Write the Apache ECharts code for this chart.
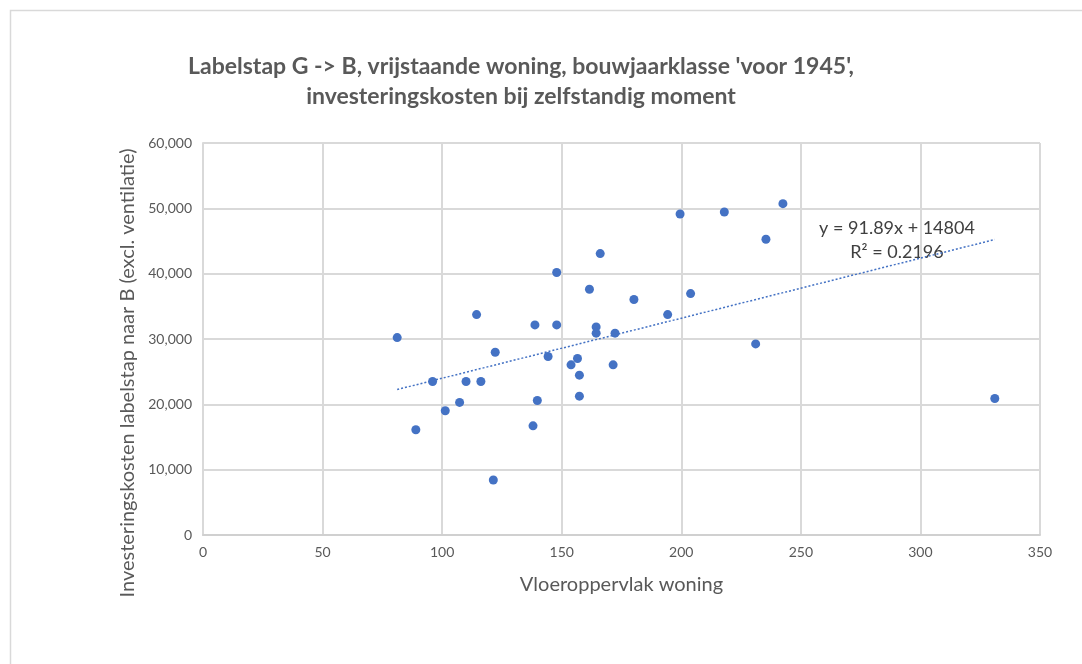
<!DOCTYPE html>
<html>
<head>
<meta charset="utf-8">
<script src="https://cdn.jsdelivr.net/npm/echarts@6/dist/echarts.min.js"></script>
<style>
html,body{margin:0;padding:0;background:#fff;}
#chart{width:1082px;height:664px;}
</style>
</head>
<body>
<div id="chart"></div>
<script>
// Data
var floorArea = [199.5, 166.1, 147.9, 161.6, 180.2, 203.9, 194.3, 114.4, 81.2, 138.8,
                 147.9, 164.4, 164.4, 172.3, 122.2, 144.3, 156.6, 153.9, 171.5, 157.4,
                 96.0, 110.0, 116.2, 139.8, 157.4, 107.3, 101.3, 89.0, 138.0, 121.4,
                 218.0, 242.5, 235.4, 231.1, 331.1];
var investmentCost = [49130, 43070, 40170, 37610, 36040, 36950, 33740, 33740, 30220, 32160,
                      32160, 31850, 30890, 30890, 27980, 27320, 27010, 26040, 26040, 24470,
                      23500, 23500, 23500, 20590, 21250, 20290, 19010, 16110, 16710, 8410,
                      49440, 50720, 45260, 29250, 20900];
var trendSlope = 91.89;
var trendIntercept = 14804;
var trendLabel = ['y = 91.89x + 14804', 'R\u00b2 = 0.2196'];
var xTicks = [0, 50, 100, 150, 200, 250, 300, 350];
var yTicks = [0, 10000, 20000, 30000, 40000, 50000, 60000];
var titleLines = ["Labelstap G -> B, vrijstaande woning, bouwjaarklasse 'voor 1945',",
                  "investeringskosten bij zelfstandig moment"];
var xAxisTitle = 'Vloeroppervlak woning';
var yAxisTitle = 'Investeringskosten labelstap naar B (excl. ventilatie)';

var points = floorArea.map(function (x, i) { return [x, investmentCost[i]]; });
var xMinData = Math.min.apply(null, floorArea);
var xMaxData = Math.max.apply(null, floorArea);
var trendData = [[xMinData, trendSlope * xMinData + trendIntercept],
                 [xMaxData, trendSlope * xMaxData + trendIntercept]];

var font = 'Lato, "Open Sans", sans-serif';
var chart = echarts.init(document.getElementById('chart'));
chart.setOption({
  backgroundColor: '#ffffff',
  animation: false,
  title: {
    text: titleLines.join('\n'),
    left: 516,
    textAlign: 'center',
    top: 47,
    textStyle: { fontFamily: font, fontWeight: 'bold', fontSize: 23, color: '#595959', lineHeight: 30 }
  },
  grid: { left: 203, right: 42, top: 143, bottom: 129, containLabel: false },
  xAxis: {
    type: 'value', min: 0, max: 350, interval: 50,
    name: xAxisTitle, nameLocation: 'middle', nameGap: 40,
    nameTextStyle: { fontFamily: font, fontSize: 20, color: '#595959' },
    axisLine: { show: true, lineStyle: { color: '#d0d0d0', width: 2 } },
    axisTick: { show: false },
    splitLine: { show: true, lineStyle: { color: '#d9d9d9', width: 2 } },
    axisLabel: { fontFamily: font, fontSize: 14, color: '#595959', margin: 10 }
  },
  yAxis: {
    type: 'value', min: 0, max: 60000, interval: 10000,
    axisLine: { show: true, lineStyle: { color: '#d9d9d9', width: 2 } },
    axisTick: { show: false },
    splitLine: { show: true, lineStyle: { color: '#d9d9d9', width: 2 } },
    axisLabel: {
      fontFamily: font, fontSize: 14, color: '#595959', margin: 11,
      formatter: function (v) { return v === 0 ? '0' : v.toLocaleString('en-US'); }
    }
  },
  graphic: [
    { type: 'rect', silent: true, z: -1,
      shape: { x: 10.5, y: 10.5, width: 1200, height: 800 },
      style: { fill: 'none', stroke: '#d9d9d9', lineWidth: 1.5 } },
    { type: 'text', x: 128, y: 373, rotation: Math.PI / 2,
      style: { text: yAxisTitle, fontFamily: font, fontSize: 20, fill: '#595959',
               textAlign: 'center', textVerticalAlign: 'middle' } },
    { type: 'text', x: 897, y: 228,
      style: { text: trendLabel[0], fontFamily: font, fontSize: 18, fill: '#404040',
               textAlign: 'center', textVerticalAlign: 'middle' } },
    { type: 'text', x: 897, y: 252,
      style: { text: trendLabel[1], fontFamily: font, fontSize: 18, fill: '#404040',
               textAlign: 'center', textVerticalAlign: 'middle' } }
  ],
  series: [
    {
      type: 'line', data: trendData, symbol: 'none', silent: true,
      lineStyle: { color: '#4472c4', width: 1.5, type: [2, 2] }, z: 2
    },
    {
      type: 'scatter', data: points, symbol: 'circle', symbolSize: 9,
      itemStyle: { color: '#4472c4', opacity: 1 }, z: 3
    }
  ]
});
</script>
</body>
</html>
